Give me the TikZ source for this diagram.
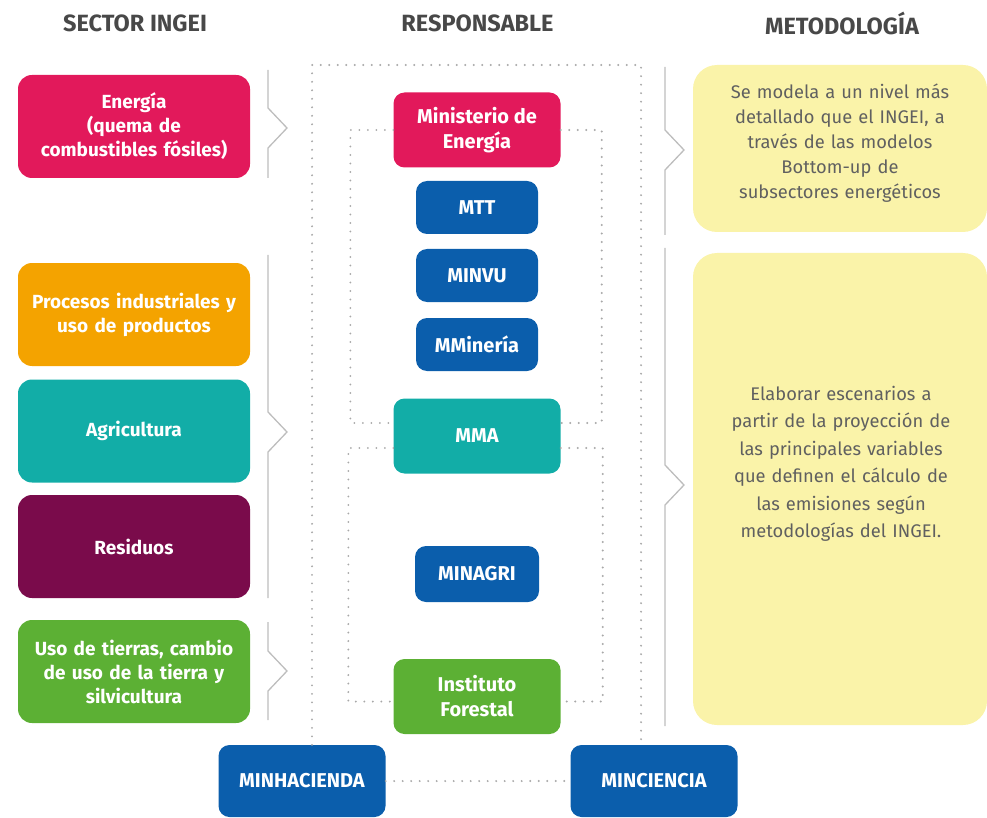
\documentclass[tikz,border=0pt]{standalone}
\usepackage{fontspec}
\setmainfont{Fira Sans}
\usetikzlibrary{positioning}
\definecolor{cene}{HTML}{E2195B}
\definecolor{cproc}{HTML}{F4A300}
\definecolor{cagr}{HTML}{12ADA7}
\definecolor{cres}{HTML}{7A0B4B}
\definecolor{cuso}{HTML}{5CB034}
\definecolor{cmin}{HTML}{0B5EAC}
\definecolor{camar}{HTML}{FAF3A9}
\definecolor{gtit}{HTML}{484848}
\definecolor{gtxt}{HTML}{606060}
\definecolor{gdot}{HTML}{A8A8A8}
\definecolor{gbrk}{HTML}{BDBDBD}
\tikzstyle{title}=[%
  text=gtit,
  font=\bfseries\fontsize{23.5}{26}\selectfont
]
\tikzstyle{sector}=[%
  rounded corners=14pt,
  minimum width=232pt,
  minimum height=103pt,
  text width=225pt,
  align=center,
  text=white,
  font=\bfseries\fontsize{19}{24}\selectfont
]
\tikzstyle{respbig}=[%
  rounded corners=11pt,
  minimum width=167pt,
  minimum height=75pt,
  align=center,
  text=white,
  font=\bfseries\fontsize{20}{25}\selectfont
]
\tikzstyle{respsmall}=[%
  respbig,
  fill=cmin,
  minimum width=122pt,
  minimum height=53pt
]
\tikzstyle{metod}=[%
  fill=camar,
  rounded corners=24pt,
  minimum width=294pt
]
\tikzstyle{metodtxt}=[%
  text width=290pt,
  align=center,
  text=gtxt,
  font=\fontsize{18.3}{25}\selectfont
]
\tikzstyle{dots}=[%
  draw=gdot,
  line width=2.1pt,
  line cap=round,
  dash pattern=on 0pt off 8.5pt
]
\tikzstyle{brk}=[draw=gbrk, line width=1.3pt]
\begin{document}
\begin{tikzpicture}[x=1pt,y=-1pt]
      \useasboundingbox (0,0) rectangle (987,818);
      % column titles
      \node[title] (tsec) at (135,23.5) {SECTOR INGEI};
      \node[title] (tres) at (477.5,23.5) {RESPONSABLE};
      \node[title] (tmet) at (842,23.5) {METODOLOGÍA};
      % sectors
      \node[sector, fill=cene] (sene) at (134,126.5) {Energía\\(quema de\\combustibles fósiles)};
      \node[sector, fill=cproc] (sproc) at (134,314.5) {Procesos industriales y\\uso de productos};
      \node[sector, fill=cagr] (sagr) at (134,431) {Agricultura};
      \node[sector, fill=cres] (sres) at (134,546.5) {Residuos};
      \node[sector, fill=cuso] (suso) at (134,671.5) {Uso de tierras, cambio\\de uso de la tierra y\\silvicultura};
      \foreach \x/\ya/\yc/\yb in {268/70/128/178, 268/255/432/598, 268/622/671/720, 665/67/150/235, 665/248/485/726} {%
        \draw[brk] (\x,\ya) -- (\x,\yc-20) -- (\x+19,\yc) -- (\x,\yc+20) -- (\x,\yb);
      }
      % responsables
      \coordinate (otop) at (477,65);
      \node[respbig, fill=cene] (rmine) at (477,130) {Ministerio de\\Energía};
      \node[respsmall] (rmtt) at (477,207.5) {MTT};
      \node[respsmall] (rminvu) at (477,275.5) {MINVU};
      \node[respsmall] (rmmin) at (477,344.5) {MMinería};
      \node[respbig, fill=cagr] (rmma) at (477,436) {MMA};
      \node[respsmall, minimum width=124pt, minimum height=56pt] (rminagri) at (477,574) {MINAGRI};
      \node[respbig, fill=cuso] (rfor) at (477,696.5) {Instituto\\Forestal};
      \node[respbig, fill=cmin, minimum height=72pt] (rhac) at (302,781) {MINHACIENDA};
      \node[respbig, fill=cmin, minimum height=72pt] (rcie) at (654,781) {MINCIENCIA};
      \draw[dots] ([xshift=10pt]rhac.north) |- (otop) -| ([xshift=-13pt]rcie.north);
      \draw[dots] (rhac.east) -- (rcie.west);
      \draw[dots] (rmine.west) -| ([xshift=-43pt,yshift=13pt]rmma.west) -- ([yshift=13pt]rmma.west);
      \draw[dots] (rmine.east) -| ([xshift=41pt,yshift=13pt]rmma.east) -- ([yshift=13pt]rmma.east);
      \draw[dots] ([yshift=-12pt]rmma.west) -| ([xshift=-45pt,yshift=-5pt]rfor.west) -- ([yshift=-5pt]rfor.west);
      \draw[dots] ([yshift=-12pt]rmma.east) -| ([xshift=42pt,yshift=-5pt]rfor.east) -- ([yshift=-5pt]rfor.east);
      % metodologia
      \node[metod, minimum height=167pt] (mene) at (840,148.5) {};
      \node[metodtxt] (menet) at (840,143) {Se modela a un nivel más\\detallado que el INGEI, a\\través de las modelos\\Bottom-up de\\subsectores energéticos};
      \node[metod, minimum height=472pt] (mgen) at (840,489) {};
      \node[metodtxt, font=\fontsize{18.3}{27.5}\selectfont] (mgent) at (841,464) {Elaborar escenarios a\\partir de la proyección de\\las principales variables\\que definen el cálculo de\\las emisiones según\\metodologías del INGEI.};
    \end{tikzpicture}
\end{document}
